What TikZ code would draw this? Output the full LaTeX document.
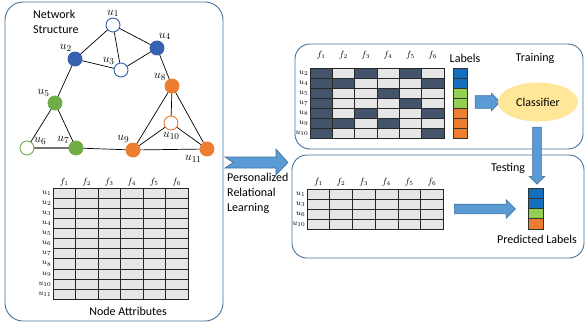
\documentclass[tikz,border=0pt]{standalone}
\usepackage{amsmath}
\usepackage{fontspec}
\setmainfont{Carlito}
\usetikzlibrary{shapes,shapes.arrows,positioning,calc}

\definecolor{panelc}{RGB}{65,113,156}
\definecolor{nblue}{RGB}{55,98,175}
\definecolor{ngreen}{RGB}{112,173,71}
\definecolor{norange}{RGB}{237,125,49}
\definecolor{cellgray}{RGB}{230,230,230}
\definecolor{celldark}{RGB}{68,84,106}
\definecolor{lblue}{RGB}{20,110,190}
\definecolor{lgreen}{RGB}{146,208,80}
\definecolor{arrowblue}{RGB}{91,155,213}
\definecolor{arrowedge}{RGB}{65,113,156}
\definecolor{clsfill}{RGB}{255,230,153}

\begin{document}
\begin{tikzpicture}[x=1pt, y=-1pt,
  panel/.style={draw=panelc, line width=0.9pt, rounded corners=18pt},
  vtx/.style={circle, line width=0.9pt, minimum size=14pt, inner sep=0pt},
  nlab/.style={font=\fontsize{13}{13}\selectfont, inner sep=0.5pt},
  edge/.style={line width=0.7pt},
  cell/.style={draw=black!85, line width=0.6pt, fill=cellgray},
  flab/.style={font=\fontsize{9}{9}\selectfont, inner sep=0pt},
  ulab/.style={font=\fontsize{8}{8}\selectfont, inner sep=0.5pt, anchor=east},
  txt/.style={font=\fontsize{12}{15}\selectfont, inner sep=0pt},
  blockarrow/.style={single arrow, draw=arrowedge, fill=arrowblue, line width=0.6pt, inner xsep=0pt, single arrow head indent=0pt}]
	\useasboundingbox (0,0) rectangle (586,324);

	% panels
	\draw[panel] (5,2) rectangle (223,321);
	\draw[panel, rounded corners=15pt] (295,44) rectangle (583,149);
	\draw[panel, rounded corners=15pt] (292,155) rectangle (584,258);

	% network
	\node (nettitle) at (33,10) [txt, anchor=north west, align=left] {Network\\Structure};
	\node (u1) at (113,25) [vtx, draw=nblue, fill=white, label={[nlab]90:$u_1$}] {};
	\node (u2) at (75,59) [vtx, draw=nblue, fill=nblue, label={[nlab]110:$u_2$}] {};
	\node (u3) at (121,70) [vtx, draw=nblue, fill=white, label={[nlab]140:$u_3$}] {};
	\node (u4) at (157,48) [vtx, draw=nblue, fill=nblue, label={[nlab]80:$u_4$}] {};
	\node (u5) at (55,103) [vtx, draw=ngreen, fill=ngreen, label={[nlab]130:$u_5$}] {};
	\node (u6) at (27,148) [vtx, draw=ngreen, fill=white, label={[nlab]25:$u_6$}] {};
	\node (u7) at (76,148) [vtx, draw=ngreen, fill=ngreen, label={[nlab]145:$u_7$}] {};
	\node (u8) at (172,86) [vtx, draw=norange, fill=norange, label={[nlab]135:$u_8$}] {};
	\node (u9) at (133,150) [vtx, draw=norange, fill=norange, label={[nlab]115:$u_9$}] {};
	\node (u10) at (171,123) [vtx, draw=norange, fill=white, label={[nlab, label distance=1pt]272:$u_{10}$}] {};
	\node (u11) at (207,149) [vtx, draw=norange, fill=norange, label={[nlab]230:$u_{11}$}] {};
	\foreach \a/\b in {u1/u2, u1/u3, u1/u4, u2/u3, u3/u4, u4/u8, u2/u5, u5/u6, u5/u7, u7/u9, u8/u9, u8/u10, u8/u11, u9/u10, u10/u11, u9/u11}
		\draw[edge] (\a) -- (\b);
	\draw[line width=1.5pt, draw=black!55] (u6) -- (u7);

	% node attributes
	\foreach \r in {1,...,11}{
		\foreach \c in {1,...,6}
			\draw[cell] ({53+(\c-1)*22.5},{188+(\r-1)*10.1}) rectangle ++(22.5,10.1);
		\node at (52,{188+(\r-0.5)*10.1}) [ulab] {$u_{\r}$};
	}
	\foreach \c in {1,...,6}
		\node at ({53+(\c-0.5)*22.5},182) [flab] {$f_{\c}$};
	\node (attr) at (128,311) [txt] {Node Attributes};

	% notched arrow
	\filldraw[draw=arrowedge, fill=arrowblue, line width=0.6pt] (225,157) -- (276,157) -- (276,149) -- (288,162.5) -- (276,175) -- (276,168) -- (225,168) -- (233,162.5) -- cycle;
	\node (prl) at (227,173) [txt, anchor=north west, align=left] {Personalized\\Relational\\Learning};

	% training
	\foreach \u/\pat [count=\r] in {2/{1,0,1,0,1,0}, 4/{1,1,0,0,0,1}, 5/{1,0,0,1,0,0}, 7/{1,0,0,0,1,0}, 8/{1,0,1,0,0,1}, 9/{1,1,0,1,0,0}, 10/{1,0,0,0,0,1}}{
		\foreach \v [count=\c] in \pat{
			\ifnum\v=1 \def\cc{celldark}\else\def\cc{cellgray}\fi
			\draw[cell, fill=\cc] ({310+(\c-1)*22.3},{68+(\r-1)*10.1}) rectangle ++(22.3,10.1);
		}
		\node at (309,{68+(\r-0.5)*10.1}) [ulab] {$u_{\u}$};
	}
	\foreach \c in {1,...,6}
		\node at ({310+(\c-0.5)*22.3},55) [flab] {$f_{\c}$};
	\foreach \col [count=\r] in {lblue,lblue,lgreen,lgreen,norange,norange,norange}
		\draw[draw=black!80, line width=0.6pt, fill=\col] (453,{68+(\r-1)*10.1}) rectangle ++(14,10.1);
	\node (lbl) at (465,58) [txt] {Labels};
	\node (train) at (535,58) [txt] {Training};
	\node (toclf) at (484.5,102) [blockarrow, minimum height=25pt, inner ysep=6pt, single arrow head extend=2.5pt] {};
	\node (clf) at (538,102) [ellipse, fill=clsfill, minimum width=80pt, minimum height=39pt, inner sep=0pt, txt] {Classifier};
	\node (down) at (537,153.5) [blockarrow, rotate=-90, minimum height=57pt, inner ysep=4pt, single arrow head extend=3.5pt] {};

	% testing
	\foreach \u [count=\r] in {1,3,6,10}{
		\foreach \c in {1,...,6}
			\draw[cell] ({307+(\c-1)*22.7},{189+(\r-1)*10}) rectangle ++(22.7,10);
		\node at (306,{189+(\r-0.5)*10}) [ulab] {$u_{\u}$};
	}
	\foreach \c in {1,...,6}
		\node at ({307+(\c-0.5)*22.7},182) [flab] {$f_{\c}$};
	\node (test) at (508,168) [txt] {Testing};
	\node (topred) at (482.5,209) [blockarrow, minimum height=61pt, inner ysep=4.5pt, single arrow head extend=4.5pt] {};
	\foreach \col [count=\r] in {lblue,lblue,lgreen,norange}
		\draw[draw=black!80, line width=0.6pt, fill=\col] (528,{188+(\r-1)*10.25}) rectangle ++(15,10.25);
	\node (pred) at (537,239) [txt] {Predicted Labels};
\end{tikzpicture}
\end{document}
